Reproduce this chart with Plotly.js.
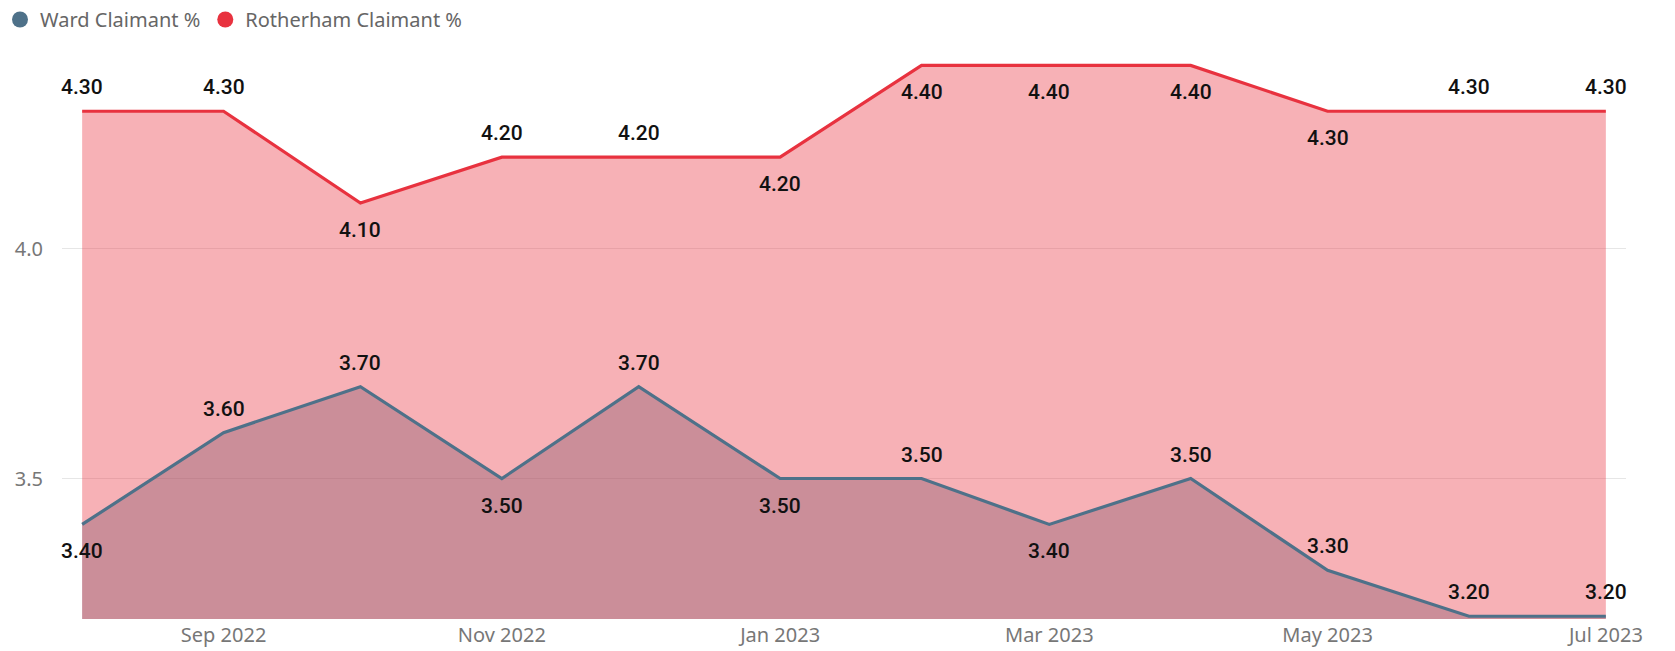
<!DOCTYPE html>
<html>
<head>
<meta charset="utf-8">
<script src="https://cdn.plot.ly/plotly-3.0.1.min.js"></script>
<style>html,body{margin:0;padding:0;background:#fff;}#chart{width:1675px;height:651px;}</style>
</head>
<body>
<div id="chart"></div>
<script>
// ---- data ----
const months = ['2022-08-01','2022-09-01','2022-10-01','2022-11-01','2022-12-01','2023-01-01',
                '2023-02-01','2023-03-01','2023-04-01','2023-05-01','2023-06-01','2023-07-01'];
const wardClaimant = [3.40,3.60,3.70,3.50,3.70,3.50,3.50,3.40,3.50,3.30,3.20,3.20];
const rotherhamClaimant = [4.30,4.30,4.10,4.20,4.20,4.20,4.40,4.40,4.40,4.30,4.30,4.30];
const xTickDates = ['2022-09-01','2022-11-01','2023-01-01','2023-03-01','2023-05-01','2023-07-01'];
const xTickLabels = ['Sep 2022','Nov 2022','Jan 2023','Mar 2023','May 2023','Jul 2023'];
const yTickValues = [3.5, 4.0];
const yTickLabels = ['3.5','4.0'];
const seriesNames = ['Ward Claimant %','Rotherham Claimant %'];

// ---- label placement (style) ----
const wardLabelSide = ['below','above','above','below','above','below','above','below','above','above','above','above'];
const rothLabelSide = ['above','above','below','above','above','below','below','below','below','below','above','above'];

const wardColor = '#4E7189';
const rothColor = '#E8323F';

const traces = [
  {x: months, y: wardClaimant, type:'scatter', mode:'none', fill:'tozeroy',
   fillcolor:'rgba(78,113,137,0.40)', showlegend:false, hoverinfo:'skip'},
  {x: months, y: rotherhamClaimant, type:'scatter', mode:'none', fill:'tozeroy',
   fillcolor:'rgba(234,54,66,0.39)', showlegend:false, hoverinfo:'skip'},
  {x: months, y: wardClaimant, type:'scatter', mode:'lines', name: seriesNames[0],
   line:{color:wardColor, width:3.2}, showlegend:false},
  {x: months, y: rotherhamClaimant, type:'scatter', mode:'lines', name: seriesNames[1],
   line:{color:rothColor, width:3.2}, showlegend:false},
  {x:[null], y:[null], type:'scatter', mode:'markers', name: seriesNames[0],
   marker:{color:wardColor, size:16}},
  {x:[null], y:[null], type:'scatter', mode:'markers', name: seriesNames[1],
   marker:{color:rothColor, size:16}}
];

const labelFont = {family:'Roboto, "DejaVu Sans Condensed", sans-serif', size:21, color:'#111111', weight:500};
const annotations = [];
function addLabels(vals, sides){
  vals.forEach((v,i)=>{
    annotations.push({x: months[i], y: v, xref:'x', yref:'y', text: v.toFixed(2),
      showarrow:false, xanchor:'center', yanchor:'middle',
      yshift: sides[i]==='above' ? 24 : -27, font: labelFont});
  });
}
addLabels(rotherhamClaimant, rothLabelSide);
addLabels(wardClaimant, wardLabelSide);

const layout = {
  width:1675, height:651,
  margin:{l:62, r:49, t:47, b:32},
  paper_bgcolor:'#ffffff', plot_bgcolor:'#ffffff',
  font:{family:'"Noto Sans", "Open Sans", sans-serif', color:'#777777', size:20},
  showlegend:true,
  legend:{orientation:'h', xref:'container', yref:'container', x:0, y:1,
          xanchor:'left', yanchor:'top', font:{size:20, color:'#666666'},
          itemwidth:30, tracegroupgap:0, bgcolor:'rgba(0,0,0,0)'},
  xaxis:{type:'date', range:['2022-07-27 14:00','2023-07-05 10:00'],
         tickvals: xTickDates, ticktext: xTickLabels, showgrid:false, zeroline:false,
         showline:false, ticks:'', tickfont:{size:20, color:'#777777'}, ticklabelstandoff:2},
  yaxis:{range:[3.194, 4.44], tickvals: yTickValues, ticktext: yTickLabels,
         showgrid:true, gridcolor:'#E6E6E6', gridwidth:1, zeroline:false, showline:false,
         ticks:'', tickfont:{size:20, color:'#777777'}, ticklabelstandoff:18},
  annotations: annotations
};

Plotly.newPlot('chart', traces, layout, {displayModeBar:false, staticPlot:true});
</script>
</body>
</html>
